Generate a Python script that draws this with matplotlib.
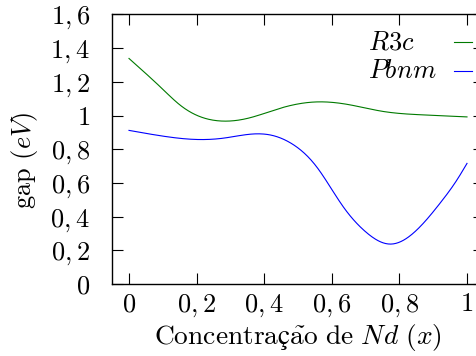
import matplotlib
matplotlib.use("Agg")
import matplotlib.pyplot as plt
import numpy as np
from matplotlib.ticker import FixedLocator, FuncFormatter
from matplotlib.lines import Line2D

plt.rcParams['font.family'] = ['cmr10', 'DejaVu Serif']
plt.rcParams['mathtext.fontset'] = 'cm'
plt.rcParams['axes.unicode_minus'] = False

# Data
x_r3c = [0.0, 0.1, 0.15, 0.2, 0.28, 0.35, 0.45, 0.555, 0.65, 0.75, 0.87, 1.0]
y_r3c = [1.339, 1.156, 1.064, 1.002, 0.967, 0.983, 1.045, 1.081, 1.065, 1.025, 1.004, 0.992]

x_pbnm = [0.0, 0.1, 0.2, 0.28, 0.37, 0.42, 0.48, 0.555, 0.634, 0.7, 0.772, 0.84, 0.92, 0.97, 1.0]
y_pbnm = [0.912, 0.878, 0.858, 0.866, 0.891, 0.884, 0.835, 0.696, 0.458, 0.31, 0.237, 0.30,
          0.479, 0.617, 0.716]

xticks = [0, 0.2, 0.4, 0.6, 0.8, 1.0]
yticks = [0, 0.2, 0.4, 0.6, 0.8, 1.0, 1.2, 1.4, 1.6]
labels = ['$R3c$', '$Pbnm$']
colors = ['#007a00', '#0000ff']
xlabel = r'$\mathrm{Concentraç\tilde{a}o\ de}\ Nd\ (x)$'
ylabel = r'gap $(eV)$'


def spline(x, y, n=400):
    # natural cubic spline through the read points
    x = np.asarray(x, float); y = np.asarray(y, float)
    k = len(x)
    h = np.diff(x)
    A = np.zeros((k, k)); b = np.zeros(k)
    A[0, 0] = A[-1, -1] = 1
    for i in range(1, k - 1):
        A[i, i - 1] = h[i - 1]
        A[i, i] = 2 * (h[i - 1] + h[i])
        A[i, i + 1] = h[i]
        b[i] = 6 * ((y[i + 1] - y[i]) / h[i] - (y[i] - y[i - 1]) / h[i - 1])
    M = np.linalg.solve(A, b)
    xs = np.linspace(x[0], x[-1], n)
    idx = np.clip(np.searchsorted(x, xs) - 1, 0, k - 2)
    hi = h[idx]
    a = x[idx + 1] - xs
    c = xs - x[idx]
    ys = (M[idx] * a**3 + M[idx + 1] * c**3) / (6 * hi) \
        + (y[idx] / hi - M[idx] * hi / 6) * a + (y[idx + 1] / hi - M[idx + 1] * hi / 6) * c
    return xs, ys


fig = plt.figure(figsize=(4.77, 3.56), dpi=100)
ax = fig.add_axes([112.1 / 477, 1 - 284 / 356, 371.8 / 477, 269.5 / 356])

for xd, yd, lab, c in zip([x_r3c, x_pbnm], [y_r3c, y_pbnm], labels, colors):
    xs, ys = spline(xd, yd)
    ax.plot(xs, ys, color=c, lw=0.8, label=lab)

ax.set_xlim(-0.05, 1.05)
ax.set_ylim(0, 1.6)

fs = 19


def fmt(v, pos):
    if abs(v - round(v)) < 1e-9:
        return '$%d$' % round(v)
    return '$' + ('%.1f' % v).replace('.', ',') + '$'


ax.xaxis.set_major_locator(FixedLocator(xticks))
ax.yaxis.set_major_locator(FixedLocator(yticks))
ax.xaxis.set_major_formatter(FuncFormatter(fmt))
ax.yaxis.set_major_formatter(FuncFormatter(fmt))
ax.tick_params(direction='in', length=8, width=0.8, top=True, right=True,
               labelsize=fs)
ax.tick_params(axis='x', pad=6)
ax.tick_params(axis='y', pad=16)
for sp in ax.spines.values():
    sp.set_linewidth(1.0)

ax.set_xlabel(xlabel, fontsize=19.8, labelpad=2)
ax.set_ylabel(ylabel, fontsize=fs)
ax.yaxis.set_label_coords(-0.195, 0.46)

# key (gnuplot style: text left-aligned, sample line on the right)
key_text_x = 0.688
key_line_x = (0.9205, 0.969)
key_rows = [(0.869, 0.8969), (0.764, 0.790)]
for (ty, ly), lab, c in zip(key_rows, labels, colors):
    ax.text(key_text_x, ty, lab, transform=ax.transAxes, fontsize=fs,
            ha='left', va='baseline')
    ax.add_line(Line2D(list(key_line_x), [ly, ly], transform=ax.transAxes,
                       color=c, lw=0.8))

fig.savefig('out.png', dpi=100)
